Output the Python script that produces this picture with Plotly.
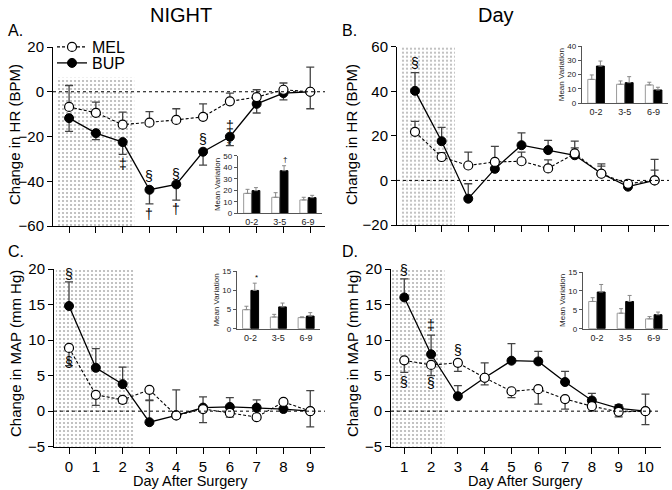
import plotly.graph_objects as go

W, H = 672, 490
FONT = "Liberation Sans, Arial, sans-serif"

# ---------------- data ----------------
days_night = [0, 1, 2, 3, 4, 5, 6, 7, 8, 9]
days_day = [1, 2, 3, 4, 5, 6, 7, 8, 9, 10]
groups = ["0-2", "3-5", "6-9"]

# Panel A: NIGHT HR
mel_A = [-6.8, -9.4, -14.7, -13.8, -12.6, -11.2, -4.3, -2.4, 0.9, 0.0]
mel_A_up = [9.6, 4.8, 5.6, 4.9, 5.0, 5.8, 3.7, 3.3, 3.0, 11.0]
mel_A_dn = [0, 0, 0, 0, 0, 0, 0, 0, 0, 7.6]
bup_A = [-11.8, -18.5, -22.5, -43.8, -41.4, -26.8, -20.1, -5.4, -0.6, 0.0]
bup_A_up = [0, 0, 0, 0, 0, 0, 0, 0, 0, 0]
bup_A_dn = [5.9, 2.9, 5.5, 6.3, 7.0, 6.0, 4.0, 4.1, 3.0, 0]

# Panel B: Day HR
mel_B = [21.8, 10.5, 6.7, 8.3, 8.6, 5.4, 12.1, 3.0, -1.5, 0.0]
mel_B_up = [4.7, 2.0, 6.0, 7.0, 4.1, 3.8, 5.5, 4.4, 1.5, 9.4]
mel_B_dn = [0, 0, 0, 0, 0, 0, 0, 0, 0, 0]
bup_B = [40.2, 17.6, -8.2, 5.2, 15.8, 13.6, 11.3, 3.1, -2.8, 0.0]
bup_B_up = [8.2, 6.2, 6.7, 2.3, 5.5, 4.4, 3.3, 3.3, 1.0, 4.6]
bup_B_dn = [0, 0, 0, 0, 0, 0, 0, 0, 0, 0]

# Panel C: NIGHT MAP
mel_C = [8.9, 2.3, 1.6, 3.0, -0.6, 0.3, -0.25, -0.85, 1.3, 0.0]
mel_C_up = [0, 0, 0, 0, 3.6, 0, 0, 0, 0, 2.9]
mel_C_dn = [2.5, 1.5, 0.5, 1.5, 0.4, 1.9, 0.6, 0.3, 0, 2.2]
bup_C = [14.8, 6.1, 3.8, -1.55, -0.6, 0.5, 0.6, 0.5, 0.3, 0.0]
bup_C_up = [3.4, 2.7, 2.4, 3.1, 0, 1.5, 1.3, 1.1, 0, 0]
bup_C_dn = [0, 0, 0, 0, 0, 0, 0, 0, 0, 0]

# Panel D: Day MAP
mel_D = [7.15, 6.5, 6.8, 4.7, 2.8, 3.1, 1.7, 0.7, -0.1, 0.0]
mel_D_up = [0, 0, 0, 0, 0, 0, 0, 0, 0, 2.4]
mel_D_dn = [1.7, 1.5, 1.2, 1.0, 0.9, 2.1, 1.4, 0.7, 0.7, 1.9]
bup_D = [16.0, 8.0, 2.1, 4.7, 7.1, 7.0, 4.1, 1.5, 0.4, 0.0]
bup_D_up = [2.6, 2.7, 1.5, 2.1, 2.4, 1.4, 1.5, 1.0, 0.5, 0]
bup_D_dn = [0, 0, 0, 0, 0, 0, 0, 0, 0, 0]

# Inset bar charts (mean variation)
inA_mel = [17.3, 13.9, 11.6]; inA_mel_err = [3.5, 4.0, 2.3]
inA_bup = [19.7, 37.0, 13.6]; inA_bup_err = [2.6, 4.3, 2.0]
inB_mel = [16.7, 13.3, 12.8]; inB_mel_err = [3.1, 2.3, 1.9]
inB_bup = [26.0, 14.4, 9.3]; inB_bup_err = [3.5, 4.2, 1.9]
inC_mel = [4.97, 3.05, 2.9]; inC_mel_err = [0.9, 0.7, 0.2]
inC_bup = [10.0, 5.7, 3.3]; inC_bup_err = [1.9, 1.0, 0.9]
inD_mel = [7.2, 4.1, 2.6]; inD_mel_err = [1.0, 1.2, 0.6]
inD_bup = [9.7, 7.2, 3.7]; inD_bup_err = [2.0, 1.6, 0.7]


def dom_x(a, b):
    return [a / W, b / W]


def dom_y(top, bottom):
    return [1 - bottom / H, 1 - top / H]


panels = [
    dict(s="", days=days_night, xd=dom_x(53, 325), yd=dom_y(47, 226), xr=[-0.6, 9.55], yr=[-60, 20],
         yt=[-60, -40, -20, 0, 20], labels=False,
         mel=(mel_A, mel_A_up, mel_A_dn), bup=(bup_A, bup_A_up, bup_A_dn),
         shade=(-0.49, 2.43, -60, 6.3)),
    dict(s="2", days=days_day, xd=dom_x(397, 669), yd=dom_y(46.7, 225), xr=[0.324, 10.54], yr=[-20, 60],
         yt=[-20, 0, 20, 40, 60], labels=False,
         mel=(mel_B, mel_B_up, mel_B_dn), bup=(bup_B, bup_B_up, bup_B_dn),
         shade=(0.47, 2.5, -20, 60)),
    dict(s="3", days=days_night, xd=dom_x(54, 325), yd=dom_y(269, 446.7), xr=[-0.56, 9.55], yr=[-5, 20],
         yt=[-5, 0, 5, 10, 15, 20], labels=True,
         mel=(mel_C, mel_C_up, mel_C_dn), bup=(bup_C, bup_C_up, bup_C_dn),
         shade=(-0.49, 2.43, -5, 20)),
    dict(s="4", days=days_day, xd=dom_x(391, 661), yd=dom_y(269, 446.7), xr=[0.504, 10.58], yr=[-5, 20],
         yt=[-5, 0, 5, 10, 15, 20], labels=True,
         mel=(mel_D, mel_D_up, mel_D_dn), bup=(bup_D, bup_D_up, bup_D_dn),
         shade=(0.5, 2.5, -5, 20)),
]

insets = [
    dict(s="5", xd=dom_x(237.7, 322), yd=dom_y(155.7, 213.3), yr=[0, 50], yt=[0, 10, 20, 30, 40, 50],
         mel=(inA_mel, inA_mel_err), bup=(inA_bup, inA_bup_err)),
    dict(s="6", xd=dom_x(581.7, 668), yd=dom_y(46, 103.3), yr=[0, 40], yt=[0, 10, 20, 30, 40],
         mel=(inB_mel, inB_mel_err), bup=(inB_bup, inB_bup_err)),
    dict(s="7", xd=dom_x(236.7, 320), yd=dom_y(271.3, 328.7), yr=[0, 15], yt=[0, 5, 10, 15],
         mel=(inC_mel, inC_mel_err), bup=(inC_bup, inC_bup_err)),
    dict(s="8", xd=dom_x(582.7, 668), yd=dom_y(272, 328.7), yr=[0, 15], yt=[0, 5, 10, 15],
         mel=(inD_mel, inD_mel_err), bup=(inD_bup, inD_bup_err)),
]

fig = go.Figure()
layout = {}
shapes = []
ERR_COL = "#444"

for i, p in enumerate(panels):
    s = p["s"]
    xa, ya = "x" + s, "y" + s
    x0, x1, yb, yt_ = p["shade"]
    fig.add_trace(go.Bar(
        x=[(x0 + x1) / 2], y=[yt_ - yb], base=[yb], width=[x1 - x0],
        marker=dict(color="white", line=dict(width=0),
                    pattern=dict(shape=".", fgcolor="#b4b4b4", bgcolor="white", size=4, solidity=0.22)),
        xaxis=xa, yaxis=ya, showlegend=False, hoverinfo="skip"))
    by, bu, bd = p["bup"]
    fig.add_trace(go.Scatter(
        x=p["days"], y=by, mode="lines+markers", name="BUP",
        line=dict(color="black", width=1.3),
        marker=dict(symbol="circle", size=9, color="black", line=dict(color="black", width=1)),
        error_y=dict(type="data", symmetric=False, array=bu, arrayminus=bd,
                     color=ERR_COL, thickness=1.3, width=4),
        xaxis=xa, yaxis=ya, showlegend=(i == 0), legend="legend2"))
    my, mu, md = p["mel"]
    fig.add_trace(go.Scatter(
        x=p["days"], y=my, mode="lines+markers", name="MEL",
        line=dict(color="black", width=1.1, dash="3px,2px"),
        marker=dict(symbol="circle", size=9, color="white", line=dict(color="black", width=1.2)),
        error_y=dict(type="data", symmetric=False, array=mu, arrayminus=md,
                     color=ERR_COL, thickness=1.3, width=4),
        xaxis=xa, yaxis=ya, showlegend=(i == 0), legend="legend"))

    layout["xaxis" + s] = dict(
        domain=p["xd"], range=p["xr"], anchor=ya, showline=True, linecolor="black", linewidth=1,
        ticks="outside", ticklen=6, tickcolor="black", tickvals=p["days"], showgrid=False,
        zeroline=False, showticklabels=p["labels"], automargin=False,
        tickfont=dict(size=15, color="black", family=FONT))
    layout["yaxis" + s] = dict(
        domain=p["yd"], range=p["yr"], anchor=xa, showline=True, linecolor="black", linewidth=1,
        ticks="outside", ticklen=5, tickcolor="black", tickvals=p["yt"], showgrid=False,
        zeroline=False, automargin=False, tickfont=dict(size=15, color="black", family=FONT))
    shapes.append(dict(type="line", xref=xa + " domain", x0=0, x1=1, yref=ya, y0=0, y1=0,
                       line=dict(color="black", width=1, dash="dot"), layer="above"))

for q in insets:
    s = q["s"]
    xa, ya = "x" + s, "y" + s
    mv, me = q["mel"]
    bv, be = q["bup"]
    fig.add_trace(go.Bar(
        x=groups, y=mv, marker=dict(color="white", line=dict(color="#9a9a9a", width=1)),
        error_y=dict(type="data", symmetric=False, array=me, arrayminus=[0] * len(me),
                     color="#888", thickness=1, width=2),
        xaxis=xa, yaxis=ya, showlegend=False))
    fig.add_trace(go.Bar(
        x=groups, y=bv, marker=dict(color="black", line=dict(color="black", width=1)),
        error_y=dict(type="data", symmetric=False, array=be, arrayminus=[0] * len(be),
                     color="#888", thickness=1, width=2),
        xaxis=xa, yaxis=ya, showlegend=False))
    layout["xaxis" + s] = dict(
        domain=q["xd"], range=[-0.5, 2.5], anchor=ya, showline=True, linecolor="#555", linewidth=1,
        ticks="", showgrid=False, zeroline=False, type="category", automargin=False,
        tickfont=dict(size=9, color="#222", family=FONT))
    layout["yaxis" + s] = dict(
        domain=q["yd"], range=q["yr"], anchor=xa, showline=True, linecolor="#555", linewidth=1,
        ticks="outside", ticklen=3, tickcolor="#555", tickvals=q["yt"], showgrid=False,
        zeroline=False, automargin=False, tickfont=dict(size=8, color="#222", family=FONT),
        title=dict(text="Mean Variation", font=dict(size=8, color="#222", family=FONT), standoff=1))

ann = []


def txt(t, x, y, size, xref="paper", yref="paper", angle=0, xanchor="center", yanchor="middle"):
    ann.append(dict(text=t, x=x, y=y, xref=xref, yref=yref, showarrow=False, textangle=angle,
                    font=dict(size=size, color="black", family=FONT), xanchor=xanchor, yanchor=yanchor))


# titles and panel letters (pixel positions)
txt("NIGHT", 181 / W, 1 - 15 / H, 20)
txt("Day", 496 / W, 1 - 15 / H, 20)
txt("A.", 6 / W, 1 - 31 / H, 16, xanchor="left")
txt("B.", 340 / W, 1 - 31 / H, 16, xanchor="left")
txt("C.", 6 / W, 1 - 252 / H, 16, xanchor="left")
txt("D.", 340 / W, 1 - 252 / H, 16, xanchor="left")
txt("Change in HR (BPM)", 14 / W, 1 - 135 / H, 15, angle=-90)
txt("Change in HR (BPM)", 351 / W, 1 - 135 / H, 15, angle=-90)
txt("Change in MAP (mm Hg)", 15 / W, 1 - 354 / H, 15, angle=-90)
txt("Change in MAP (mm Hg)", 352 / W, 1 - 354 / H, 15, angle=-90)
txt("Day After Surgery", 190 / W, 1 - 481 / H, 14.5)
txt("Day After Surgery", 525 / W, 1 - 481 / H, 14.5)

# significance marks (data coordinates)
for t, x, y in [("‡", 2, -32.1), ("§", 3, -37.5), ("†", 3, -54.5), ("§", 4, -36.6), ("†", 4, -52.2),
                ("§", 5, -21.0), ("‡", 6, -15.2)]:
    txt(t, x, y, 14, xref="x", yref="y")
txt("*", 5.98, -23.6, 11, xref="x", yref="y")
txt("§", 1, 52.7, 14, xref="x2", yref="y2")
txt("§", 0, 19.3, 14, xref="x3", yref="y3")
txt("§", 0, 6.9, 14, xref="x3", yref="y3")
for t, x, y in [("§", 1, 19.8), ("‡", 2, 12.1), ("§", 3, 8.6), ("§", 1, 4.1), ("§", 2, 3.9)]:
    txt(t, x, y, 14, xref="x4", yref="y4")
txt("†", 1.2, 46.5, 8, xref="x5", yref="y5")
txt("*", 0.2, 13.3, 8, xref="x7", yref="y7")

fig.update_layout(
    template="none",
    width=W, height=H, margin=dict(l=0, r=0, t=0, b=0, autoexpand=False),
    paper_bgcolor="white", plot_bgcolor="rgba(0,0,0,0)",
    barmode="group", bargap=0.4, bargroupgap=0.08,
    font=dict(family=FONT, color="black"),
    shapes=shapes, annotations=ann,
    legend=dict(x=52 / W, y=1 - 47 / H, xanchor="left", yanchor="middle", bgcolor="rgba(0,0,0,0)",
                font=dict(size=16, family=FONT, color="black"), itemwidth=30, borderwidth=0),
    legend2=dict(x=52 / W, y=1 - 63 / H, xanchor="left", yanchor="middle", bgcolor="rgba(0,0,0,0)",
                 font=dict(size=16, family=FONT, color="black"), itemwidth=30, borderwidth=0),
    **layout,
)

fig.write_html("out.html", config={"displayModeBar": False},
               post_script="document.body.style.margin='0';document.body.style.padding='0';")
